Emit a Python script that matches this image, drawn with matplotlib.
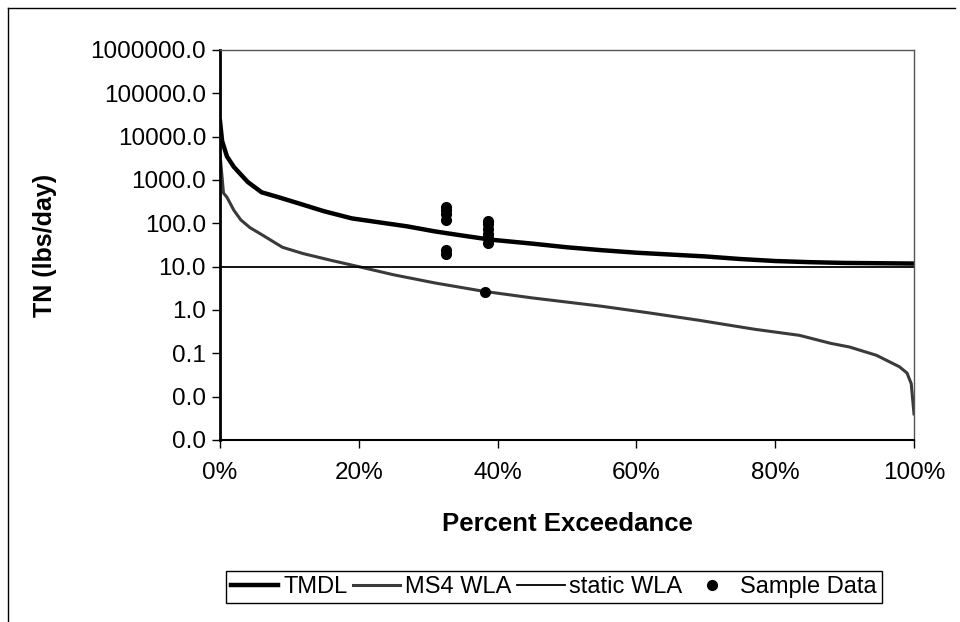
import matplotlib
matplotlib.use("Agg")
import matplotlib.pyplot as plt
from matplotlib.lines import Line2D
from matplotlib.ticker import FuncFormatter, FixedLocator

plt.rcParams['font.family'] = ['Liberation Sans', 'DejaVu Sans']

# load duration curves (percent exceedance vs lbs/day)
tmdl_pct = [0, 0.3, 1, 2, 4, 6, 8, 11, 15, 19, 23, 27, 31, 35, 39, 45, 50, 55,
            60, 65, 70, 75, 80, 85, 90, 95, 100]
tmdl_val = [23000, 8000, 3500, 2000, 900, 520, 420, 300, 190, 130, 105, 85, 65,
            52, 42, 34, 28, 24, 21, 19, 17.2, 15, 13.5, 12.7, 12.2, 12.0, 11.8]

ms4_pct = [0, 0.5, 1, 2, 3, 4.3, 6, 9, 12, 16, 20, 25, 31, 38, 45, 55, 62, 69,
           77, 83.5, 88, 90.7, 94.6, 97.9, 99, 99.6, 100]
ms4_val = [4000, 500, 400, 200, 120, 80, 55, 28, 20, 14, 10, 6.5, 4.2, 2.7, 1.9,
           1.22, 0.85, 0.58, 0.36, 0.26, 0.17, 0.14, 0.09, 0.049, 0.035, 0.02, 0.004]

static_pct = [0, 100]
static_val = [10, 10]

# sample data
sample_pct = [32.6, 32.6, 32.6, 32.6, 32.6, 32.6,
              38.6, 38.6, 38.6, 38.6, 38.6, 38.6, 38.2]
sample_val = [235, 200, 165, 120, 24, 20,
              115, 95, 75, 58, 45, 36, 2.6]

yticks = [0.001, 0.01, 0.1, 1, 10, 100, 1000, 10000, 100000, 1000000]
xticks = [0, 20, 40, 60, 80, 100]

fig = plt.figure(figsize=(9.6, 6.22), dpi=100)
ax = fig.add_axes([220/960, 1 - 440/622, 694/960, 390/622])

ax.plot(tmdl_pct, tmdl_val, color='black', lw=3.2, label='TMDL')
ax.plot(ms4_pct, ms4_val, color='#3a3a3a', lw=2.2, label='MS4 WLA')
ax.plot(static_pct, static_val, color='black', lw=1.3, label='static WLA')
ax.plot(sample_pct, sample_val, 'o', color='black', ms=7, label='Sample Data')

ax.set_yscale('log')
ax.set_ylim(0.001, 1000000)
ax.set_xlim(0, 100)
ax.yaxis.set_major_locator(FixedLocator(yticks))
ax.yaxis.set_minor_locator(FixedLocator([]))
ax.yaxis.set_major_formatter(FuncFormatter(lambda v, p: f"{v:.1f}"))
ax.set_xticks(xticks)
ax.xaxis.set_major_formatter(FuncFormatter(lambda v, p: f"{v:.0f}%"))

ax.tick_params(axis='both', direction='out', length=6, width=1, labelsize=17.5, pad=4)
ax.tick_params(axis='x', pad=10)
ax.spines['left'].set_linewidth(2)
ax.spines['bottom'].set_linewidth(1.5)
ax.spines['top'].set_linewidth(1)
ax.spines['right'].set_linewidth(1)
ax.spines['top'].set_color('#555555')
ax.spines['right'].set_color('#555555')

ax.set_xlabel('Percent Exceedance', fontsize=18.5, fontweight='bold', labelpad=20)
ax.set_ylabel('TN (lbs/day)', fontsize=18, fontweight='bold', labelpad=24)

fig.legend(loc='center', bbox_to_anchor=(554/960, 1 - 587/622), ncol=4,
           fontsize=17, frameon=True, fancybox=False, edgecolor='black',
           framealpha=1, handlelength=2.0, handletextpad=0.2, columnspacing=0.25,
           borderpad=0.2, borderaxespad=0)

# outer chart frame (top and left edges)
fig.add_artist(Line2D([8/960, 955/960], [1 - 8/622, 1 - 8/622], color='black', lw=1))
fig.add_artist(Line2D([8/960, 8/960], [0, 1 - 8/622], color='black', lw=1))

fig.savefig("out.png", dpi=100)
